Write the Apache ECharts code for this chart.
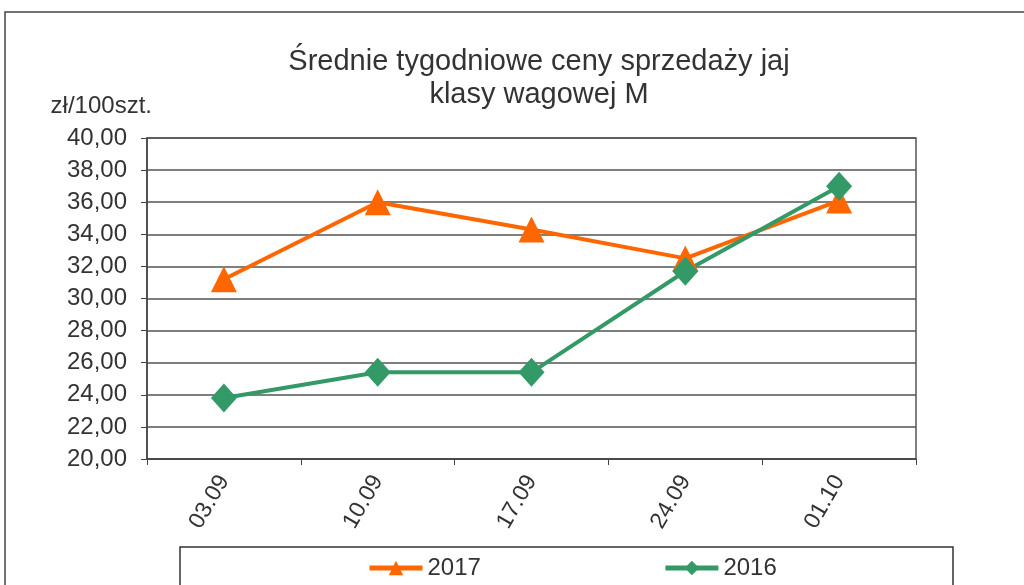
<!DOCTYPE html>
<html>
<head>
<meta charset="utf-8">
<script src="https://cdn.jsdelivr.net/npm/echarts@6/dist/echarts.min.js"></script>
<style>
  html, body { margin: 0; padding: 0; background: #fff; }
  #container { width: 1024px; height: 585px; }
</style>
</head>
<body>
<div id="container"></div>
<script>
const categories = ["03.09", "10.09", "17.09", "24.09", "01.10"];
const values2017 = [31.2, 36.0, 34.3, 32.5, 36.1];
const values2016 = [23.8, 25.4, 25.4, 31.7, 37.0];
const seriesNames = ["2017", "2016"];

const textColor = "#333";
const font = "Liberation Sans, Arial, sans-serif";

const dom = document.getElementById("container");
const myChart = echarts.init(dom, null, { renderer: "canvas" });

const option = {
  animation: false,
  backgroundColor: "#fff",
  title: {
    text: "Średnie tygodniowe ceny sprzedaży jaj\nklasy wagowej M",
    left: 534,
    top: 40,
    textAlign: "center",
    textStyle: {
      fontFamily: font,
      fontSize: 29,
      fontWeight: "normal",
      color: textColor,
      lineHeight: 33,
    },
  },
  legend: {
    data: seriesNames,
    left: 367,
    top: 556,
    padding: 0,
    itemWidth: 53,
    itemHeight: 18,
    itemGap: 182,
    lineStyle: { width: 5 },
    textStyle: { fontFamily: font, fontSize: 24, color: textColor },
  },
  graphic: [
    {
      type: "rect",
      shape: { x: 5, y: 12, width: 1030, height: 600 },
      style: { fill: "none", stroke: "#444", lineWidth: 1.5 },
      silent: true,
    },
    {
      type: "rect",
      shape: { x: 180, y: 547, width: 773, height: 60 },
      style: { fill: "none", stroke: "#333", lineWidth: 1.5 },
      silent: true,
    },
  ],
  grid: {
    left: 147,
    right: 108,
    top: 138,
    bottom: 126,
    show: true,
    borderColor: "#555",
    borderWidth: 1.5,
  },
  xAxis: {
    type: "category",
    data: categories,
    boundaryGap: true,
    axisLine: { lineStyle: { color: "#444", width: 1.5 } },
    axisTick: { show: true, length: 6, lineStyle: { color: "#444" } },
    axisLabel: {
      rotate: 60,
      margin: 18,
      fontFamily: font,
      fontSize: 23,
      color: textColor,
    },
  },
  yAxis: {
    type: "value",
    min: 20,
    max: 40,
    interval: 2,
    name: "zł/100szt.",
    nameLocation: "end",
    nameGap: 20,
    nameTextStyle: {
      fontFamily: font,
      fontSize: 24,
      color: textColor,
      align: "right",
      padding: [0, -5, 0, 0],
    },
    axisLine: { show: true, lineStyle: { color: "#444", width: 1.5 } },
    axisTick: { show: true, length: 6, lineStyle: { color: "#444" } },
    axisLabel: {
      margin: 20,
      fontFamily: font,
      fontSize: 24,
      color: textColor,
      formatter: (v) => v.toFixed(2).replace(".", ","),
    },
    splitLine: { lineStyle: { color: "#555", width: 1.5 } },
  },
  series: [
    {
      name: seriesNames[0],
      type: "line",
      data: values2017,
      symbol: "triangle",
      symbolSize: 26,
      lineStyle: { color: "#FF6600", width: 4 },
      itemStyle: { color: "#FF6600" },
    },
    {
      name: seriesNames[1],
      type: "line",
      data: values2016,
      symbol: "diamond",
      symbolSize: [26, 29],
      lineStyle: { color: "#339966", width: 4 },
      itemStyle: { color: "#339966" },
    },
  ],
};

myChart.setOption(option);
window.addEventListener("resize", myChart.resize);
</script>
</body>
</html>
